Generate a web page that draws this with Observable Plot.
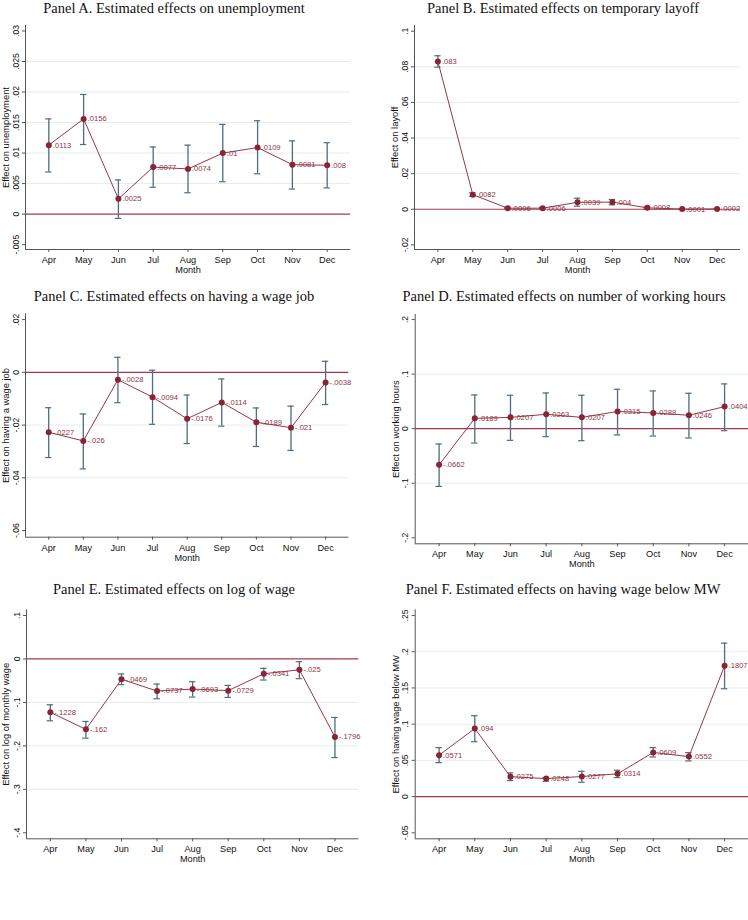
<!DOCTYPE html>
<html>
<head>
<meta charset="utf-8">
<script src="https://cdn.jsdelivr.net/npm/d3@7"></script>
<script src="https://cdn.jsdelivr.net/npm/@observablehq/plot@0.6"></script>
<style>
  html, body { margin: 0; padding: 0; background: #fff; }
  #page { position: relative; width: 748px; height: 920px; background: #fff; overflow: hidden; }
  .ptitle { position: absolute; width: 374px; text-align: center; font-family: "Liberation Serif", "Times New Roman", serif; font-size: 14.5px; line-height: 15px; color: #111; white-space: nowrap; }
  .panel { position: absolute; }
</style>
</head>
<body>
<div id="page"></div>
<script>
// ---------------- data ----------------
const months = ["Apr","May","Jun","Jul","Aug","Sep","Oct","Nov","Dec"];

const unempEst = [0.0113, 0.0156, 0.0025, 0.0077, 0.0074, 0.01, 0.0109, 0.0081, 0.008];
const unempLo  = [0.0069, 0.0114, -0.0007, 0.0044, 0.0035, 0.0053, 0.0066, 0.0041, 0.0043];
const unempHi  = [0.0156, 0.0196, 0.0056, 0.0110, 0.0113, 0.0147, 0.0153, 0.0120, 0.0117];
const unempTicks = [-0.005, 0, 0.005, 0.01, 0.015, 0.02, 0.025, 0.03];

const layoffEst = [0.083, 0.0082, 0.0006, 0.0006, 0.0039, 0.004, 0.0008, 0.0001, 0.0002];
const layoffLo  = [0.0798, 0.0072, 0.0002, 0.0002, 0.0017, 0.0025, 0.0003, -0.0002, -0.0001];
const layoffHi  = [0.0862, 0.0092, 0.0010, 0.0010, 0.0062, 0.0055, 0.0013, 0.0004, 0.0005];
const layoffTicks = [-0.02, 0, 0.02, 0.04, 0.06, 0.08, 0.1];

const wageJobEst = [-0.0227, -0.026, -0.0028, -0.0094, -0.0176, -0.0114, -0.0189, -0.021, -0.0038];
const wageJobLo  = [-0.0323, -0.0366, -0.0115, -0.0197, -0.0270, -0.0204, -0.0281, -0.0296, -0.0122];
const wageJobHi  = [-0.0134, -0.0158, 0.0057, 0.0008, -0.0086, -0.0025, -0.0135, -0.0128, 0.0042];
const wageJobTicks = [-0.06, -0.04, -0.02, 0, 0.02];

const hoursEst = [-0.0662, 0.0189, 0.0207, 0.0263, 0.0207, 0.0315, 0.0288, 0.0246, 0.0404];
const hoursLo  = [-0.1058, -0.0263, -0.0214, -0.0147, -0.0220, -0.0116, -0.0135, -0.0171, -0.0037];
const hoursHi  = [-0.0281, 0.0618, 0.0612, 0.0654, 0.0612, 0.0722, 0.0691, 0.0648, 0.0820];
const hoursTicks = [-0.2, -0.1, 0, 0.1, 0.2];

const logWageEst = [-0.1228, -0.162, -0.0469, -0.0737, -0.0693, -0.0729, -0.0341, -0.025, -0.1796];
const logWageLo  = [-0.1423, -0.1823, -0.0592, -0.0915, -0.0877, -0.0885, -0.0485, -0.0454, -0.2269];
const logWageHi  = [-0.1054, -0.1438, -0.0346, -0.0577, -0.0523, -0.0608, -0.0215, -0.0062, -0.1346];
const logWageTicks = [-0.4, -0.3, -0.2, -0.1, 0, 0.1];

const belowMWEst = [0.0571, 0.094, 0.0275, 0.0248, 0.0277, 0.0314, 0.0609, 0.0552, 0.1807];
const belowMWLo  = [0.0469, 0.0758, 0.0221, 0.0211, 0.0198, 0.0262, 0.0547, 0.0492, 0.1489];
const belowMWHi  = [0.0676, 0.1117, 0.0326, 0.0262, 0.0349, 0.0363, 0.0676, 0.0607, 0.2119];
const belowMWTicks = [-0.05, 0, 0.05, 0.1, 0.15, 0.2, 0.25];

const titles = [
  "Panel A. Estimated effects on unemployment",
  "Panel B. Estimated effects on temporary layoff",
  "Panel C. Estimated effects on having a wage job",
  "Panel D. Estimated effects on number of working hours",
  "Panel E. Estimated effects on log of wage",
  "Panel F. Estimated effects on having wage below MW"
];
const yTitles = [
  "Effect on unemployment",
  "Effect on layoff",
  "Effect on having a wage job",
  "Effect on working hours",
  "Effect on log of monthly wage",
  "Effect on having wage below MW"
];

// ---------------- styling ----------------
const C_DOT = "#8A2334";
const C_LINE = "#9A3545";
const C_BAR = "#4D6D7E";
const C_ZERO = "#A5384F";
const C_GRID = "#E4ECEE";
const C_AXIS = "#555";
const C_LAB = "#8E3444";
const C_TXT = "#111";

const fmt = v => v === 0 ? "0" : String(+v.toFixed(6)).replace(/^(-?)0\./, "$1.");

const page = document.getElementById("page");

function panel(cfg) {
  const {est, lo, hi, ticks, yDomain, ytitle, title, box, m, ytDx, titleX, titleTop} = cfg;
  const rows = months.map((mo, i) => ({i, mo, v: est[i], lo: lo[i], hi: hi[i]}));
  const pad = 0.67;
  const xDomain = [-pad, months.length - 1 + pad];
  const cap = 0.09;
  const grid = ticks.slice(1, -1).filter(t => t !== 0);
  const chart = Plot.plot({
    width: box.w, height: box.h,
    marginLeft: m.l, marginRight: m.r, marginTop: m.t, marginBottom: m.b,
    x: {domain: xDomain, axis: null},
    y: {domain: yDomain, axis: null},
    style: {fontFamily: "'Liberation Sans', Arial, sans-serif", fontSize: "9px", color: C_TXT, background: "transparent", overflow: "visible"},
    marks: [
      Plot.ruleY(grid, {stroke: C_GRID, strokeWidth: 1}),
      Plot.ruleY([0], {stroke: C_ZERO, strokeWidth: 1.2}),
      Plot.ruleX(rows, {x: "i", y1: "lo", y2: "hi", stroke: C_BAR, strokeWidth: 1.3}),
      Plot.ruleY(rows, {y: "hi", x1: d => d.i - cap, x2: d => d.i + cap, stroke: C_BAR, strokeWidth: 1.2}),
      Plot.ruleY(rows, {y: "lo", x1: d => d.i - cap, x2: d => d.i + cap, stroke: C_BAR, strokeWidth: 1.2}),
      Plot.line(rows, {x: "i", y: "v", stroke: C_LINE, strokeWidth: 1}),
      Plot.dot(rows, {x: "i", y: "v", r: 3, fill: C_DOT, stroke: null}),
      Plot.text(rows, {x: "i", y: "v", text: d => fmt(d.v), textAnchor: "start", dx: 4, fontSize: 7.6, fill: C_LAB}),
      Plot.ruleX([xDomain[0]], {stroke: C_AXIS, strokeWidth: 1}),
      Plot.ruleY([yDomain[0]], {stroke: C_AXIS, strokeWidth: 1}),
      Plot.axisY(ticks, {tickFormat: fmt, tickRotate: -90, tickSize: 3, tickPadding: 4, fontSize: 8.6, label: null, stroke: C_AXIS, fill: C_TXT}),
      Plot.axisX(d3.range(months.length), {tickFormat: i => months[i], tickSize: 3, tickPadding: 4, fontSize: 9.2, label: null, stroke: C_AXIS, fill: C_TXT}),
      Plot.text(["Month"], {text: d => d, frameAnchor: "bottom", lineAnchor: "top", dy: 17, fontSize: 9.2, fill: C_TXT}),
      Plot.text([ytitle], {text: d => d, frameAnchor: "left", rotate: -90, textAnchor: "middle", lineAnchor: "bottom", dx: ytDx, fontSize: 9.4, fill: C_TXT})
    ]
  });
  const wrap = document.createElement("div");
  wrap.className = "panel";
  wrap.style.left = box.x + "px";
  wrap.style.top = box.y + "px";
  wrap.appendChild(chart);
  page.appendChild(wrap);

  const t = document.createElement("div");
  t.className = "ptitle";
  t.textContent = title;
  t.style.left = (titleX - 187) + "px";
  t.style.top = titleTop + "px";
  page.appendChild(t);
}

panel({est: unempEst, lo: unempLo, hi: unempHi, ticks: unempTicks, yDomain: [-0.0058, 0.0309],
  ytitle: yTitles[0], title: titles[0], box: {x: 0, y: 18, w: 374, h: 262}, m: {l: 25, r: 24, t: 7, b: 31},
  ytDx: -17, titleX: 174, titleTop: 0.5});
panel({est: layoffEst, lo: layoffLo, hi: layoffHi, ticks: layoffTicks, yDomain: [-0.0226, 0.1032],
  ytitle: yTitles[1], title: titles[1], box: {x: 374, y: 18, w: 374, h: 262}, m: {l: 40, r: 8, t: 7, b: 31},
  ytDx: -16.5, titleX: 563, titleTop: 0.5});
panel({est: wageJobEst, lo: wageJobLo, hi: wageJobHi, ticks: wageJobTicks, yDomain: [-0.0625, 0.0222],
  ytitle: yTitles[2], title: titles[2], box: {x: 0, y: 306, w: 374, h: 262}, m: {l: 25, r: 25.7, t: 7.3, b: 31.3},
  ytDx: -17, titleX: 174, titleTop: 289});
panel({est: hoursEst, lo: hoursLo, hi: hoursHi, ticks: hoursTicks, yDomain: [-0.211, 0.2092],
  ytitle: yTitles[3], title: titles[3], box: {x: 374, y: 306, w: 374, h: 272}, m: {l: 40.7, r: 0, t: 8, b: 34.7},
  ytDx: -16.7, titleX: 564, titleTop: 289});
panel({est: logWageEst, lo: logWageLo, hi: logWageHi, ticks: logWageTicks, yDomain: [-0.4138, 0.1131],
  ytitle: yTitles[4], title: titles[4], box: {x: 0, y: 600, w: 374, h: 270}, m: {l: 26, r: 15.7, t: 9.3, b: 31.7},
  ytDx: -18, titleX: 174, titleTop: 582});
panel({est: belowMWEst, lo: belowMWLo, hi: belowMWHi, ticks: belowMWTicks, yDomain: [-0.0583, 0.2579],
  ytitle: yTitles[5], title: titles[5], box: {x: 374, y: 600, w: 374, h: 270}, m: {l: 40.7, r: 0, t: 9.3, b: 31.7},
  ytDx: -16.7, titleX: 563, titleTop: 582});
</script>
</body>
</html>
